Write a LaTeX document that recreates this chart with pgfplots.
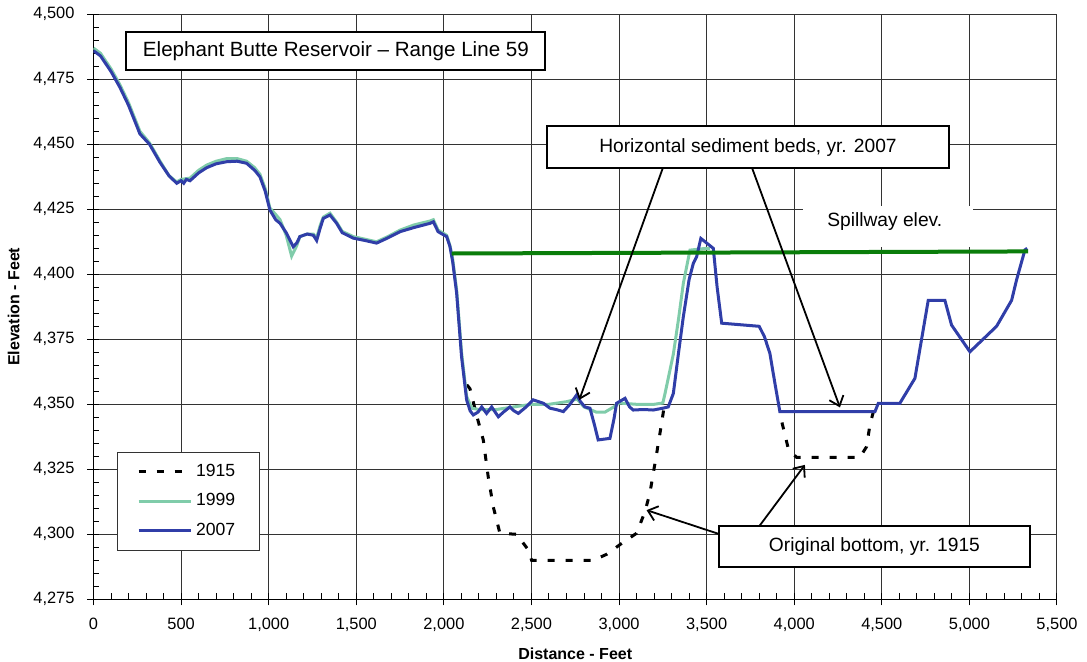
\documentclass[border=0pt]{standalone}
\usepackage{pgfplots}
\pgfplotsset{compat=1.18}
\usepackage{fontspec}
\setmainfont{Liberation Sans}
\setsansfont{Liberation Sans}
\usetikzlibrary{arrows.meta}

\definecolor{c2007}{RGB}{48,62,168}
\definecolor{c1999}{RGB}{128,204,170}
\definecolor{cspill}{RGB}{10,125,10}

\begin{document}
\begin{tikzpicture}
\begin{axis}[
    scale only axis,
    width=481.75pt, height=292.5pt,
    xmin=0, xmax=5500, ymin=4275, ymax=4500,
    xtick distance=500, ytick distance=25,
    minor x tick num=4, minor y tick num=4,
    scaled ticks=false,
    /pgf/number format/1000 sep={,},
    /pgf/number format/assume math mode=true,
    axis x line*=bottom, axis y line*=left,
    axis line style={black, line width=0.6pt, -},
    tick align=center,
    major tick length=6pt, minor tick length=3pt,
    tick style={black, line width=0.5pt},
    minor x tick style={yshift=1.5pt},
    minor y tick style={xshift=1.5pt},
    grid=major,
    major grid style={black!80, line width=0.5pt},
    tick label style={font=\fontsize{8.2}{9.6}\selectfont},
    xticklabel style={yshift=-3pt},
    yticklabel style={xshift=-3pt},
    xlabel={Distance - Feet},
    ylabel={Elevation - Feet},
    label style={font=\fontsize{8}{9.6}\selectfont\bfseries},
    xlabel style={at={(axis description cs:0.5,-0.0923)}, anchor=center},
    ylabel style={at={(axis description cs:-0.083,0.5)}, anchor=center},
    unbounded coords=jump,
    legend image code/.code={\draw[#1] (0pt,0pt) -- (26pt,0pt);},
    legend style={at={(0.024,0.2523)}, anchor=north west,
        draw=black!80, line width=0.5pt,
        font=\fontsize{8.8}{10}\selectfont,
        inner xsep=10pt, inner ysep=4pt, row sep=3pt,
        cells={anchor=west}},
]

% 1915 original bottom
\addplot[black, line width=1.5pt, dash pattern=on 3.5pt off 5.5pt] coordinates {
(2131,4357.5) (2149,4356) (2190,4345) (2225,4336.3) (2253,4322.2) (2282,4310.6)
(2320,4300.4) (2416,4300) (2482,4294) (2501,4290) (2853,4290) (2929,4292.3)
(3015,4296.5) (3100,4300.4) (3148,4308.7) (3176,4315.8) (3215,4331.2) (3243,4342.7)
(3255,4348)
(3600,nan)
(3930,4343) (3966,4333) (4013,4329.6) (4375,4329.6) (4413,4333.7) (4432,4342) (4455,4348)
};
\addlegendentry{1915}

% 1999
\addplot[c1999, line width=1.5pt] coordinates {
(0,4487) (40,4485) (100,4479) (150,4473) (200,4466) (265,4455) (320,4450.5)
(380,4443.5) (430,4438) (475,4435.5) (500,4436.5) (551,4437) (600,4440) (646,4442)
(700,4443.5) (760,4444.5) (820,4444.5) (874,4443.5) (920,4441) (950,4438.5)
(980,4433) (1007,4425.5) (1040,4423) (1065,4421) (1100,4415) (1131,4407) (1160,4411)
(1178,4414.5) (1220,4415.5) (1255,4415.5) (1274,4414) (1295,4419) (1312,4422)
(1350,4423.5) (1388,4420) (1420,4416.5) (1483,4414.5) (1550,4413.5) (1616,4412.5)
(1680,4414.5) (1750,4417) (1830,4419) (1921,4420.5) (1940,4421) (1967,4417)
(2016,4415) (2035,4411) (2050,4406) (2073,4394) (2101,4370) (2130,4353)
(2160,4348.5) (2200,4348) (2300,4348) (2400,4349) (2500,4350) (2600,4350)
(2700,4351) (2760,4352) (2800,4349) (2870,4347) (2920,4347) (2970,4349)
(3000,4350.5) (3100,4350) (3200,4350) (3250,4350.5) (3262,4354) (3310,4369.3)
(3340,4383) (3367,4396.5) (3405,4409.3) (3500,4410) (3519,4410)
};
\addlegendentry{1999}

% 2007
\addplot[c2007, line width=1.5pt] coordinates {
(0,4486) (40,4484) (100,4478) (150,4472) (200,4465) (265,4454) (320,4450)
(380,4443) (430,4438) (475,4435) (500,4436) (515,4435) (530,4436.5) (551,4436) (600,4439)
(646,4441) (700,4442.5) (760,4443.3) (820,4443.5) (874,4442.7) (920,4440)
(950,4437.5) (980,4432) (1007,4424.7) (1040,4421) (1065,4419.6) (1100,4416)
(1140,4410.6) (1160,4412) (1178,4414.5) (1220,4415.5) (1255,4415) (1274,4413)
(1295,4418) (1312,4421.5) (1350,4422.8) (1388,4419.6) (1420,4416) (1483,4413.9)
(1550,4413) (1616,4412) (1680,4414) (1750,4416.4) (1830,4418) (1921,4419.6)
(1940,4420.2) (1967,4416.4) (2016,4414.5) (2035,4410.6) (2050,4405) (2073,4392.7)
(2101,4368.3) (2130,4351.7) (2150,4347.5) (2168,4345.9) (2195,4347) (2216,4349)
(2244,4346.5) (2273,4349) (2311,4345.2) (2340,4347) (2377,4349) (2400,4347.5)
(2425,4346.5) (2470,4349) (2510,4351.7) (2568,4350.4) (2606,4348.5) (2640,4348)
(2682,4347.2) (2720,4350) (2758,4353.6) (2780,4351) (2805,4349) (2834,4348.5)
(2860,4342) (2881,4336.3) (2948,4336.9) (2970,4344) (2986,4350.4) (3034,4352.3)
(3060,4349) (3081,4347.8) (3140,4348) (3195,4347.8) (3250,4348.5) (3281,4349)
(3310,4354.2) (3340,4370) (3367,4383.7) (3400,4398) (3424,4404.2) (3443,4406.8)
(3467,4413.8) (3538,4410) (3560,4395) (3586,4381.2) (3800,4380) (3830,4376)
(3861,4369.6) (3890,4358) (3918,4347.2) (4461,4347.2) (4480,4350.4) (4603,4350.4)
(4689,4360) (4765,4390) (4860,4390) (4898,4380.5) (5003,4370.2) (5155,4380)
(5241,4390) (5269,4397.8) (5317,4409.4) (5330,4410)
};
\addlegendentry{2007}

% spillway elevation
\addplot[cspill, line width=2pt, forget plot] coordinates {(2045,4408) (5335,4408.8)};

% annotations
\draw[line width=0.9pt, -{Straight Barb[length=4.5pt,width=7.5pt]}] (axis cs:3272,4445) -- (axis cs:2773,4351.7);
\draw[line width=0.9pt, -{Straight Barb[length=4.5pt,width=7.5pt]}] (axis cs:3737,4445) -- (axis cs:4261,4348.8);
\draw[line width=0.9pt, -{Straight Barb[length=4.5pt,width=7.5pt]}] (axis cs:3766,4300) -- (axis cs:4061,4326.7);
\draw[line width=0.9pt, -{Straight Barb[length=4.5pt,width=7.5pt]}] (axis cs:3576,4300) -- (axis cs:3157,4309.3);

\node[draw, line width=1pt, fill=white, minimum width=209.5pt, minimum height=19pt,
      inner sep=0pt, font=\fontsize{10.3}{12}\selectfont]
  at (axis cs:1384,4485.7) {Elephant Butte Reservoir – Range Line 59};
\node[draw, line width=1pt, fill=white, minimum width=201pt, minimum height=21pt,
      inner sep=0pt, font=\fontsize{9.6}{11}\selectfont]
  at (axis cs:3736,4448.9) {Horizontal sediment beds, yr. 2007};
\node[draw, line width=1pt, fill=white, minimum width=155.5pt, minimum height=20.5pt,
      inner sep=0pt, font=\fontsize{9.6}{11}\selectfont]
  at (axis cs:4458,4295.4) {Original bottom, yr. 1915};
\fill[white] (axis cs:4049,4426.2) rectangle (axis cs:5020,4410.5);
\node[font=\fontsize{9.6}{11}\selectfont] at (axis cs:4517,4420.2) {Spillway elev.};
\end{axis}
\pgfresetboundingbox
\path[use as bounding box] (-46.75pt,-30.85pt) rectangle (496.75pt,299.65pt);
\end{tikzpicture}
\end{document}
